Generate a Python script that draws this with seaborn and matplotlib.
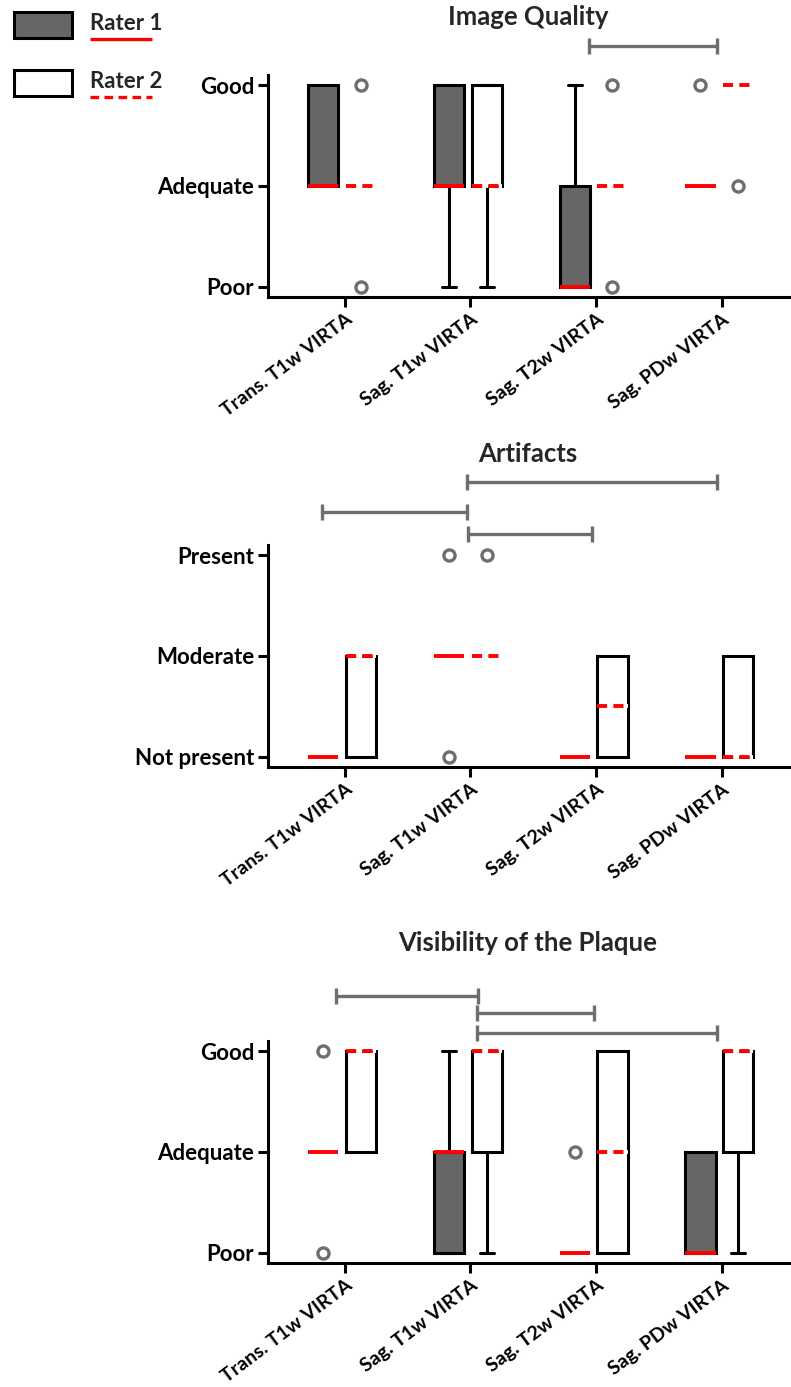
import matplotlib
matplotlib.use("Agg")
import matplotlib.pyplot as plt
import seaborn as sns
from matplotlib.patches import Rectangle
from matplotlib.lines import Line2D

sns.set_style("ticks")
plt.rcParams["font.family"] = ["Lato", "DejaVu Sans"]
plt.rcParams["font.weight"] = "bold"

# ---- data ----
categories = ["Trans. T1w VIRTA", "Sag. T1w VIRTA", "Sag. T2w VIRTA", "Sag. PDw VIRTA"]

quality_levels = ["Poor", "Adequate", "Good"]
artifact_levels = ["Not present", "Moderate", "Present"]
visibility_levels = ["Poor", "Adequate", "Good"]

# Image Quality
iq_r1_q1 = [1, 1, 0, 1]
iq_r1_med = [1, 1, 0, 1]
iq_r1_q3 = [2, 2, 1, 1]
iq_r1_lo = [1, 0, 0, 1]
iq_r1_hi = [2, 2, 2, 1]
iq_r1_out = [[], [], [], [2]]
iq_r2_q1 = [1, 1, 1, 2]
iq_r2_med = [1, 1, 1, 2]
iq_r2_q3 = [1, 2, 1, 2]
iq_r2_lo = [1, 0, 1, 2]
iq_r2_hi = [1, 2, 1, 2]
iq_r2_out = [[0, 2], [], [0, 2], [1]]
iq_sig_from = [1.94]
iq_sig_to = [2.96]
iq_sig_level = [2.39]

# Artifacts
art_r1_q1 = [0, 1, 0, 0]
art_r1_med = [0, 1, 0, 0]
art_r1_q3 = [0, 1, 0, 0]
art_r1_lo = [0, 1, 0, 0]
art_r1_hi = [0, 1, 0, 0]
art_r1_out = [[], [0, 2], [], []]
art_r2_q1 = [0, 1, 0, 0]
art_r2_med = [1, 1, 0.5, 0]
art_r2_q3 = [1, 1, 1, 1]
art_r2_lo = [0, 1, 0, 0]
art_r2_hi = [1, 1, 1, 1]
art_r2_out = [[], [2], [], []]
art_sig_from = [-0.18, 0.97, 0.98]
art_sig_to = [0.97, 2.96, 1.97]
art_sig_level = [2.43, 2.72, 2.21]

# Visibility of the Plaque
vis_r1_q1 = [1, 0, 0, 0]
vis_r1_med = [1, 1, 0, 0]
vis_r1_q3 = [1, 1, 0, 1]
vis_r1_lo = [1, 0, 0, 0]
vis_r1_hi = [1, 2, 0, 1]
vis_r1_out = [[0, 2], [], [1], []]
vis_r2_q1 = [1, 1, 0, 1]
vis_r2_med = [2, 2, 1, 2]
vis_r2_q3 = [2, 2, 2, 2]
vis_r2_lo = [1, 0, 0, 0]
vis_r2_hi = [2, 2, 2, 2]
vis_r2_out = [[], [], [], []]
vis_sig_from = [-0.07, 1.05, 1.05]
vis_sig_to = [1.06, 1.98, 2.96]
vis_sig_level = [2.55, 2.38, 2.18]


def make_stats(q1, med, q3, lo, hi, out):
    return [dict(q1=a, med=b, q3=c, whislo=d, whishi=e, fliers=f)
            for a, b, c, d, e, f in zip(q1, med, q3, lo, hi, out)]


panels = [
    dict(title="Image Quality", levels=quality_levels,
         r1=make_stats(iq_r1_q1, iq_r1_med, iq_r1_q3, iq_r1_lo, iq_r1_hi, iq_r1_out),
         r2=make_stats(iq_r2_q1, iq_r2_med, iq_r2_q3, iq_r2_lo, iq_r2_hi, iq_r2_out),
         sig=list(zip(iq_sig_from, iq_sig_to, iq_sig_level)),
         rect=[268 / 791, 1 - 297 / 1387, 523 / 791, 222 / 1387], title_y=1 - 17 / 1387),
    dict(title="Artifacts", levels=artifact_levels,
         r1=make_stats(art_r1_q1, art_r1_med, art_r1_q3, art_r1_lo, art_r1_hi, art_r1_out),
         r2=make_stats(art_r2_q1, art_r2_med, art_r2_q3, art_r2_lo, art_r2_hi, art_r2_out),
         sig=list(zip(art_sig_from, art_sig_to, art_sig_level)),
         rect=[268 / 791, 1 - 767 / 1387, 523 / 791, 222 / 1387], title_y=1 - 454 / 1387),
    dict(title="Visibility of the Plaque", levels=visibility_levels,
         r1=make_stats(vis_r1_q1, vis_r1_med, vis_r1_q3, vis_r1_lo, vis_r1_hi, vis_r1_out),
         r2=make_stats(vis_r2_q1, vis_r2_med, vis_r2_q3, vis_r2_lo, vis_r2_hi, vis_r2_out),
         sig=list(zip(vis_sig_from, vis_sig_to, vis_sig_level)),
         rect=[268 / 791, 1 - 1263 / 1387, 523 / 791, 222 / 1387], title_y=1 - 943 / 1387),
]

LW = 2.2
BOX_W = 0.24
GREY = "#6e6e6e"


def draw_rater(ax, stats, offset, fill, style):
    for i, s in enumerate(stats):
        has_box = s["q3"] > s["q1"]
        has_whisk = s["whislo"] < s["q1"] or s["whishi"] > s["q3"]
        median = dict(color="red", linewidth=2.8, solid_capstyle="butt")
        if style == "dashed":
            median.update(linestyle=(0, (2.6, 1.6)), gapcolor="white")
        ax.bxp([s], positions=[i + offset], widths=BOX_W, showbox=has_box,
               showcaps=has_whisk, patch_artist=True, manage_ticks=False,
               capwidths=0.11,
               boxprops=dict(facecolor=fill, edgecolor="black", linewidth=LW),
               whiskerprops=dict(color="black", linewidth=LW),
               capprops=dict(color="black", linewidth=LW),
               medianprops=median,
               flierprops=dict(marker="o", markerfacecolor="white", markeredgecolor=GREY,
                               markersize=8, markeredgewidth=2.4))


fig = plt.figure(figsize=(7.91, 13.87), dpi=100)

for p in panels:
    ax = fig.add_axes(p["rect"])
    draw_rater(ax, p["r1"], -0.17, "#666666", "solid")
    draw_rater(ax, p["r2"], 0.13, "white", "dashed")
    for x0, x1, y in p["sig"]:
        ax.plot([x0, x1], [y, y], color=GREY, linewidth=2.4, marker="|",
                markersize=12, markeredgewidth=2.4, clip_on=False)
    ax.set_xlim(-0.61, 3.55)
    ax.set_ylim(-0.1, 2.1)
    ax.set_yticks([0, 1, 2])
    ax.set_yticklabels(p["levels"])
    ax.set_xticks(range(len(categories)))
    ax.set_xticklabels(categories, rotation=37, ha="right", va="top",
                       rotation_mode="anchor", fontsize=14)
    sns.despine(ax=ax)
    for side in ["left", "bottom"]:
        ax.spines[side].set_linewidth(LW)
        ax.spines[side].set_color("black")
    ax.tick_params(axis="y", width=LW, length=7, labelsize=16, colors="black", pad=3)
    ax.tick_params(axis="x", width=LW, length=7, colors="black", pad=3)
    fig.text(0.6675, p["title_y"], p["title"], ha="center", va="center",
             fontsize=18.5, fontweight="bold")

# legend drawn by hand: swatch, label, and median line style under the label
for top, fill, label, ls in [(12, "#666666", "Rater 1", "-"), (70, "white", "Rater 2", (0, (2.6, 1.6)))]:
    fig.add_artist(Rectangle((14 / 791, 1 - (top + 26) / 1387), 58 / 791, 26 / 1387,
                             transform=fig.transFigure, facecolor=fill,
                             edgecolor="black", linewidth=LW))
    fig.text(90 / 791, 1 - (top + 12) / 1387, label, ha="left", va="center",
             fontsize=16, fontweight="bold")
    fig.add_artist(Line2D([90 / 791, 152 / 791], [1 - (top + 27) / 1387] * 2,
                          transform=fig.transFigure, color="red", linewidth=2.4,
                          linestyle=ls, solid_capstyle="butt"))

fig.savefig("out.png", dpi=100)
